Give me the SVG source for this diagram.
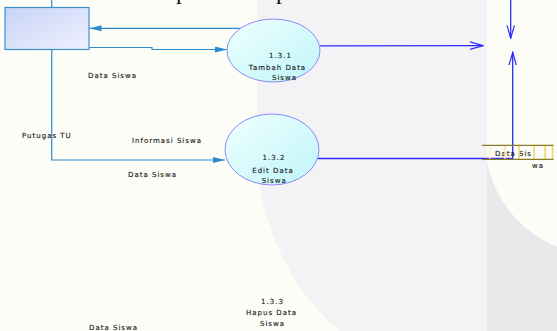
<svg xmlns="http://www.w3.org/2000/svg" width="557" height="331" viewBox="0 0 557 331">
<defs>
<linearGradient id="gBox" x1="0" y1="0" x2="1" y2="1">
<stop offset="0" stop-color="#c7d3f6"/>
<stop offset="1" stop-color="#f0f1ff"/>
</linearGradient>
<linearGradient id="gProc" x1="0" y1="0" x2="1" y2="1">
<stop offset="0" stop-color="#f0ffff"/>
<stop offset="1" stop-color="#bff5f9"/>
</linearGradient>
<marker id="aFill" markerWidth="12" markerHeight="6" refX="12" refY="3" orient="auto" markerUnits="userSpaceOnUse">
<path d="M0,0 L12,3 L0,6 Z" fill="#2b8bd0"/>
</marker>
<marker id="aOpen" markerWidth="14" markerHeight="9" refX="13" refY="4.5" orient="auto" markerUnits="userSpaceOnUse">
<path d="M0,0.8 L13,4.5 L0,8.2" fill="none" stroke="#2a2aff" stroke-width="1.2"/>
</marker>
</defs>
<style>
.lbl{font-family:"DejaVu Sans",Verdana,sans-serif;font-size:7px;letter-spacing:1px;fill:#1e1e1e;stroke:#1e1e1e;stroke-width:0.15px}
.mid{text-anchor:middle}
.c1{fill:none;stroke:#2b8bd0;stroke-width:1.2}
.c2{fill:none;stroke:#2a2aff;stroke-width:1.3}
.proc{fill:url(#gProc);stroke:#8a8af5;stroke-width:1}
.ent{fill:url(#gBox);stroke:#3b8fd0;stroke-width:1.2}
.bar{stroke:none}
</style>
<g id="background">
<rect x="0" y="0" width="557" height="331" fill="#fdfdf8"/>
<path d="M257,0 L487,0 L487,331 L340,331 C290,290 257,220 257,150 Z" fill="#f3f3f5"/>
<rect x="487" y="0" width="70" height="331" fill="#e9e9eb"/>
<path d="M487,0 L557,0 L557,246.7 A115,115 0 0 1 487,161 Z" fill="#fdfdf8"/>
<text x="176" y="-1" font-family="Liberation Serif,serif" font-size="24" fill="#111">p</text>
<text x="276" y="-1" font-family="Liberation Serif,serif" font-size="24" fill="#111">p</text>
</g>
<g id="connectors">
<line x1="51.7" y1="0" x2="51.7" y2="7.5" class="c1"/>
<path d="M241,28.3 L89.5,28.3" class="c1" marker-end="url(#aFill)"/>
<path d="M89.5,47.5 L152,47.5 L152,49.5 L227,49.5" class="c1" marker-end="url(#aFill)"/>
<path d="M51.7,49.5 L51.7,160 L225,160" class="c1" marker-end="url(#aFill)"/>
<path d="M320,45.8 L483,45.6" class="c2" marker-end="url(#aOpen)"/>
<path d="M510.7,0 L510.7,38.3" class="c2" marker-end="url(#aOpen)"/>
<path d="M317.5,158.5 L512.7,158.5 L512.7,52.3" class="c2" marker-end="url(#aOpen)"/>
</g>
<g id="labels">
<text x="88" y="77.5" class="lbl">Data Siswa</text>
<text x="22" y="138.2" class="lbl">Putugas TU</text>
<text x="132" y="142.5" class="lbl">Informasi Siswa</text>
<text x="128" y="176.5" class="lbl">Data Siswa</text>
<text x="89" y="329.5" class="lbl">Data Siswa</text>
</g>
<g id="entity-petugas">
<rect x="5" y="7.5" width="84" height="42" class="ent"/>
</g>
<g id="proc-131">
<ellipse cx="273.5" cy="50.5" rx="46.5" ry="31.5" class="proc"/>
<text x="280.5" y="57.5" class="lbl mid">1.3.1</text>
<text x="277.5" y="69.5" class="lbl mid">Tambah Data</text>
<text x="284.5" y="79.5" class="lbl mid">Siswa</text>
</g>
<g id="proc-132">
<ellipse cx="272" cy="149.5" rx="47" ry="35.5" class="proc"/>
<text x="274" y="160" class="lbl mid">1.3.2</text>
<text x="273" y="172.5" class="lbl mid">Edit Data</text>
<text x="274.2" y="182.5" class="lbl mid">Siswa</text>
</g>
<g id="proc-133">
<text x="272.5" y="303.5" class="lbl mid">1.3.3</text>
<text x="271.5" y="315" class="lbl mid">Hapus Data</text>
<text x="272.5" y="326" class="lbl mid">Siswa</text>
</g>
<g id="store-data-siswa">
<text x="495" y="155.5" class="lbl">Data Sis</text>
<text x="532" y="168" class="lbl">wa</text>
<rect x="489.2" y="145" width="1.6" height="14.3" class="bar" fill="#fbf0d6"/>
<rect x="504.2" y="145" width="1.6" height="14.3" class="bar" fill="#f8e2a6"/>
<rect x="518.2" y="145" width="1.6" height="14.3" class="bar" fill="#f3d27c"/>
<rect x="533.2" y="145" width="1.6" height="14.3" class="bar" fill="#f3d27c"/>
<rect x="544.3" y="145" width="1.8" height="14.3" class="bar" fill="#f3d27c"/>
<rect x="551.7" y="145" width="1.7" height="14.3" class="bar" fill="#f3d27c"/>
<line x1="482" y1="145.3" x2="553.5" y2="145.3" stroke="#8a7c22" stroke-width="1.2"/>
<line x1="482" y1="159.4" x2="553.5" y2="159.4" stroke="#8a7c22" stroke-width="1.2"/>
</g>
</svg>
